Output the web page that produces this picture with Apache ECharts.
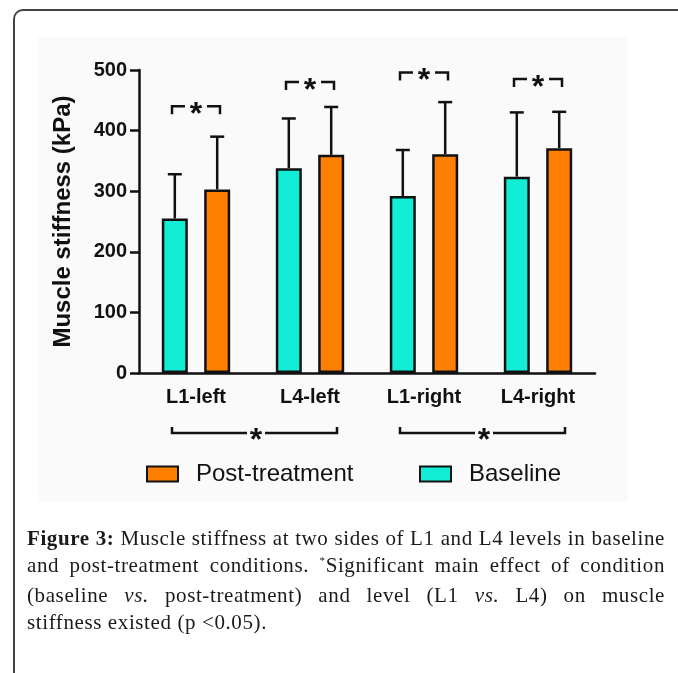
<!DOCTYPE html>
<html>
<head>
<meta charset="utf-8">
<script src="https://cdn.jsdelivr.net/npm/echarts@6/dist/echarts.min.js"></script>
<style>
  body { margin: 0; background: #fff; }
  #frame {
    position: absolute; left: 13px; top: 9px; width: 700px; height: 700px;
    border-left: 2px solid #444; border-top: 2px solid #444;
    border-top-left-radius: 10px;
  }
  #panel {
    position: absolute; left: 38px; top: 37px; width: 590px; height: 465px;
    background: #fafafa;
  }
  #chart { position: absolute; left: 0; top: 0; width: 678px; height: 673px; }
  #caption {
    position: absolute; left: 27px; top: 525px; width: 638px;
    font-family: "Liberation Serif", serif; font-size: 21px; letter-spacing: 0.6px;
    line-height: 27px; color: #1a1a1a;
  }
  #caption .j { text-align: justify; text-align-last: justify; }
  #caption .sup { font-size: 11px; position: relative; top: -8px; }
</style>
</head>
<body>
<div id="frame"></div>
<div id="panel"></div>
<div id="chart"></div>
<div id="caption">
  <div class="j"><b>Figure 3:</b> Muscle stiffness at two sides of L1 and L4 levels in baseline</div>
  <div class="j">and post-treatment conditions. <span class="sup">*</span>Significant main effect of condition</div>
  <div class="j">(baseline <i>vs.</i> post-treatment) and level (L1 <i>vs.</i> L4) on muscle</div>
  <div>stiffness existed (p &lt;0.05).</div>
</div>
<script>
// data (kPa)
var categories = ['L1-left', 'L4-left', 'L1-right', 'L4-right'];
var baselineMean = [255, 338, 292, 324];
var baselineSD = [73, 82, 76, 106];
var postMean = [303, 360, 361, 371];
var postSD = [87, 79, 86, 60];
// height of the "*" bracket over each pair
var pairStarLevel = [440, 480, 496, 485];
// L1 vs L4 comparisons under the axis
var levelPairs = [[0, 1], [2, 3]];
var yMin = 0, yMax = 500, yStep = 100;

var BASE_COLOR = '#12EED6';
var POST_COLOR = '#FF7F00';
var INK = '#111';
var BAR_W = 26;
var SHIFT = 21.2; // half distance between the two bar centres

var chart = echarts.init(document.getElementById('chart'));

function errorBars(means, sds, shift) {
  return {
    type: 'custom',
    z: 1,
    silent: true,
    data: means.map(function (m, i) { return [i, m, m + sds[i]]; }),
    renderItem: function (params, api) {
      var base = api.coord([api.value(0), api.value(1)]);
      var top = api.coord([api.value(0), api.value(2)]);
      var x = base[0] + shift;
      var st = { stroke: INK, lineWidth: 2.5 };
      return {
        type: 'group',
        children: [
          { type: 'line', shape: { x1: x, y1: base[1], x2: x, y2: top[1] }, style: st },
          { type: 'line', shape: { x1: x - 7, y1: top[1], x2: x + 7, y2: top[1] }, style: st }
        ]
      };
    }
  };
}

function star(x, y) {
  return {
    type: 'text', x: x, y: y,
    style: { text: '*', fill: INK, font: 'bold 32px "Liberation Sans"', align: 'center', verticalAlign: 'middle' }
  };
}

chart.setOption({
  animation: false,
  grid: { left: 139, right: 83, top: 70, bottom: 300 },
  legend: [{
    data: ['Post-treatment'], left: 146, top: 462, padding: 0,
    icon: 'rect', itemWidth: 31, itemHeight: 15,
    textStyle: { fontFamily: 'Liberation Sans', fontSize: 24, color: INK, padding: [0, 0, 0, 13] }
  }, {
    data: ['Baseline'], left: 419, top: 462, padding: 0,
    icon: 'rect', itemWidth: 31, itemHeight: 15,
    textStyle: { fontFamily: 'Liberation Sans', fontSize: 24, color: INK, padding: [0, 0, 0, 13] }
  }],
  xAxis: {
    type: 'category',
    data: categories,
    axisLine: { lineStyle: { color: INK, width: 2.5 } },
    axisTick: { show: false },
    axisLabel: { margin: 14, color: INK, fontFamily: 'Liberation Sans', fontWeight: 'bold', fontSize: 20 }
  },
  yAxis: {
    type: 'value',
    min: yMin, max: yMax, interval: yStep,
    name: 'Muscle stiffness (kPa)',
    nameLocation: 'middle',
    nameGap: 64,
    nameTextStyle: { color: INK, fontFamily: 'Liberation Sans', fontWeight: 'bold', fontSize: 24 },
    axisLine: { show: true, lineStyle: { color: INK, width: 2.5 } },
    axisTick: { show: true, length: 9, lineStyle: { color: INK, width: 2.5 } },
    axisLabel: { margin: 12, color: INK, fontFamily: 'Liberation Sans', fontWeight: 'bold', fontSize: 20 },
    splitLine: { show: false }
  },
  series: [
    {
      name: 'Baseline', type: 'bar', z: 2, barWidth: BAR_W, barGap: '63%',
      itemStyle: { color: BASE_COLOR, borderColor: INK, borderWidth: 2.5 },
      data: baselineMean
    },
    {
      name: 'Post-treatment', type: 'bar', z: 2, barWidth: BAR_W,
      itemStyle: { color: POST_COLOR, borderColor: INK, borderWidth: 2.5 },
      data: postMean
    },
    errorBars(baselineMean, baselineSD, -SHIFT),
    errorBars(postMean, postSD, SHIFT),
    {
      // condition brackets over each pair
      type: 'custom', silent: true, clip: false,
      data: pairStarLevel.map(function (v, i) { return [i, v]; }),
      renderItem: function (params, api) {
        var p = api.coord([api.value(0), api.value(1)]);
        var cx = p[0], y = p[1];
        var st = { stroke: INK, lineWidth: 2.5, fill: null };
        return {
          type: 'group',
          children: [
            { type: 'polyline', shape: { points: [[cx - 24, y + 8], [cx - 24, y], [cx - 11, y]] }, style: st },
            { type: 'polyline', shape: { points: [[cx + 11, y], [cx + 24, y], [cx + 24, y + 8]] }, style: st },
            star(cx, y + 9)
          ]
        };
      }
    },
    {
      // level brackets below the axis
      type: 'custom', silent: true, clip: false,
      data: levelPairs,
      renderItem: function (params, api) {
        var a = api.coord([api.value(0), 0]);
        var b = api.coord([api.value(1), 0]);
        var y = a[1] + 60;
        var x1 = a[0] - 24, x2 = b[0] + 27;
        var mid = (a[0] + b[0]) / 2 + 3;
        var st = { stroke: INK, lineWidth: 2.5, fill: null };
        return {
          type: 'group',
          children: [
            { type: 'polyline', shape: { points: [[x1, y - 6], [x1, y], [mid - 9, y]] }, style: st },
            { type: 'polyline', shape: { points: [[mid + 9, y], [x2, y], [x2, y - 6]] }, style: st },
            star(mid, y + 8)
          ]
        };
      }
    }
  ]
});
</script>
</body>
</html>
